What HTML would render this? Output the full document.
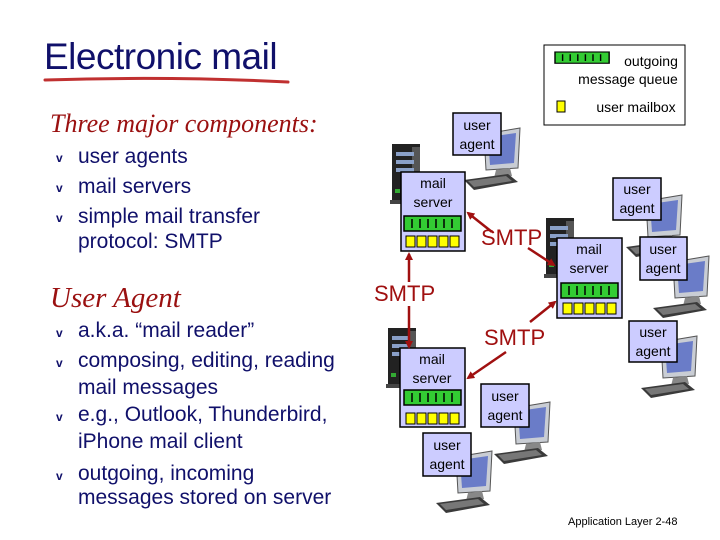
<!DOCTYPE html>
<html><head><meta charset="utf-8">
<style>
body{margin:0;width:720px;height:540px;background:#fff;overflow:hidden;position:relative;font-family:"Liberation Sans",sans-serif}
.t{position:absolute;white-space:nowrap}
.title{left:44px;top:36px;font-size:37px;color:#10106a;letter-spacing:-0.5px}
.h{color:#9a1010;font-style:italic;font-family:"Liberation Serif",serif}
.b{color:#10106a;font-size:21px}
.bul{position:absolute;color:#10106a;font-size:12px;font-weight:bold}
svg{position:absolute;left:0;top:0}
</style></head><body>
<svg width="720" height="540" viewBox="0 0 720 540">
<defs>
<symbol id="pc" overflow="visible">
<polygon points="6,4 42,-2 40,38 8,40" fill="#c9cdd4" stroke="#555" stroke-width="1"/>
<polygon points="10,7 38,3 36,33 12,35" fill="#6a7cc8"/>
<polygon points="18,40 32,38 34,46 16,48" fill="#888"/>
<polygon points="-14,50 30,44 40,52 -4,60" fill="#3a3a3a"/>
<polygon points="-10,51 28,46 34,51 -4,57" fill="#777"/>
</symbol>
<symbol id="srv" overflow="visible">
<rect x="0" y="0" width="28" height="58" fill="#222"/>
<rect x="20" y="3" width="8" height="50" fill="#555"/>
<rect x="4" y="8" width="18" height="4" fill="#8aa0c8"/>
<rect x="4" y="16" width="18" height="4" fill="#8aa0c8"/>
<rect x="4" y="24" width="18" height="4" fill="#8aa0c8"/>
<rect x="3" y="45" width="5" height="4" fill="#3a3"/>
<rect x="-2" y="56" width="32" height="4" fill="#444"/>
</symbol>
<symbol id="q" overflow="visible">
<rect x="0" y="0" width="57" height="15" fill="#33cc33" stroke="#000" stroke-width="1.5"/>
<g stroke="#000" stroke-width="1.5"><line x1="8" y1="3" x2="8" y2="12"/><line x1="16" y1="3" x2="16" y2="12"/><line x1="24" y1="3" x2="24" y2="12"/><line x1="32" y1="3" x2="32" y2="12"/><line x1="40" y1="3" x2="40" y2="12"/><line x1="48" y1="3" x2="48" y2="12"/></g>
</symbol>
<symbol id="mb" overflow="visible">
<g fill="#ffff00" stroke="#000" stroke-width="1"><rect x="0" y="0" width="9" height="11"/><rect x="11" y="0" width="9" height="11"/><rect x="22" y="0" width="9" height="11"/><rect x="33" y="0" width="9" height="11"/><rect x="44" y="0" width="9" height="11"/></g>
</symbol>
<marker id="ah" markerWidth="8" markerHeight="8" refX="6" refY="4" orient="auto" markerUnits="userSpaceOnUse"><path d="M0,0 L8,4 L0,8 Z" fill="#a01010"/></marker>
</defs>
<path d="M45,80 Q170,76 288,82" stroke="#c03030" stroke-width="3" fill="none" stroke-linecap="round"/>
<rect x="544" y="45" width="141" height="80" fill="#fff" stroke="#000" stroke-width="1"/>
<use href="#q" x="555" y="52" transform="translate(555,52) scale(0.95,0.75) translate(-555,-52)"/>
<rect x="557" y="101" width="8" height="11" fill="#ffff00" stroke="#000"/>
<use href="#pc" x="478" y="130"/>
<use href="#pc" x="640" y="197"/>
<use href="#pc" x="667" y="258"/>
<use href="#pc" x="655" y="338"/>
<use href="#pc" x="508" y="404"/>
<use href="#pc" x="450" y="453"/>
<use href="#srv" x="392" y="144"/>
<use href="#srv" x="546" y="218"/>
<use href="#srv" x="388" y="328"/>
<rect x="401" y="172" width="64" height="79" fill="#ccccff" stroke="#000" stroke-width="1.5"/>
<use href="#q" x="404" y="216"/><use href="#mb" x="406" y="236"/>
<rect x="557" y="238" width="65" height="80" fill="#ccccff" stroke="#000" stroke-width="1.5"/>
<use href="#q" x="561" y="283"/><use href="#mb" x="563" y="303"/>
<rect x="400" y="348" width="65" height="79" fill="#ccccff" stroke="#000" stroke-width="1.5"/>
<use href="#q" x="404" y="390"/><use href="#mb" x="406" y="413"/>
<g fill="#ccccff" stroke="#000" stroke-width="1.5">
<rect x="453" y="113" width="48" height="42"/>
<rect x="613" y="178" width="48" height="42"/>
<rect x="640" y="237" width="47" height="43"/>
<rect x="629" y="321" width="48" height="41"/>
<rect x="481" y="384" width="48" height="43"/>
<rect x="423" y="433" width="48" height="43"/>
</g>
<g stroke="#a01010" stroke-width="2.5" fill="none">
<line x1="492" y1="232" x2="468" y2="213" marker-end="url(#ah)"/>
<line x1="528" y1="248" x2="554" y2="265" marker-end="url(#ah)"/>
<line x1="409" y1="282" x2="409" y2="254" marker-end="url(#ah)"/>
<line x1="409" y1="306" x2="409" y2="347" marker-end="url(#ah)"/>
<line x1="530" y1="322" x2="555" y2="302" marker-end="url(#ah)"/>
<line x1="506" y1="352" x2="468" y2="378" marker-end="url(#ah)"/>
</g>
<g font-family="Liberation Sans, sans-serif" fill="#a01010" font-size="22">
<text x="481" y="245">SMTP</text>
<text x="374" y="301">SMTP</text>
<text x="484" y="345">SMTP</text>
</g>
<g font-family="Liberation Sans, sans-serif" font-size="14" fill="#000" text-anchor="middle">
<text x="477" y="130">user</text><text x="477" y="149">agent</text>
<text x="433" y="188">mail</text><text x="433" y="207">server</text>
<text x="637" y="194">user</text><text x="637" y="213">agent</text>
<text x="589" y="254">mail</text><text x="589" y="273">server</text>
<text x="663" y="254">user</text><text x="663" y="273">agent</text>
<text x="653" y="337">user</text><text x="653" y="356">agent</text>
<text x="432" y="364">mail</text><text x="432" y="383">server</text>
<text x="505" y="401">user</text><text x="505" y="420">agent</text>
<text x="447" y="450">user</text><text x="447" y="469">agent</text>
<text x="651" y="66">outgoing</text>
<text x="628" y="84">message queue</text>
<text x="636" y="112">user mailbox</text>
</g>
<text x="568" y="525" font-family="Liberation Sans, sans-serif" font-size="11" fill="#000">Application Layer 2-48</text>
</svg>
<div class="t title">Electronic mail</div>
<div class="t h" style="left:50px;top:109px;font-size:26px">Three major components:</div>
<div class="bul" style="left:56px;top:151px">v</div><div class="t b" style="left:78px;top:145px">user agents</div>
<div class="bul" style="left:56px;top:181px">v</div><div class="t b" style="left:78px;top:175px">mail servers</div>
<div class="bul" style="left:56px;top:211px">v</div><div class="t b" style="left:78px;top:205px">simple mail transfer</div>
<div class="t b" style="left:78px;top:230px">protocol: SMTP</div>
<div class="t h" style="left:50px;top:282px;font-size:29px">User Agent</div>
<div class="bul" style="left:56px;top:326px">v</div><div class="t b" style="left:78px;top:319px">a.k.a. “mail reader”</div>
<div class="bul" style="left:56px;top:356px">v</div><div class="t b" style="left:78px;top:349px">composing, editing, reading</div>
<div class="t b" style="left:78px;top:376px">mail messages</div>
<div class="bul" style="left:56px;top:410px">v</div><div class="t b" style="left:78px;top:403px">e.g., Outlook, Thunderbird,</div>
<div class="t b" style="left:78px;top:430px">iPhone mail client</div>
<div class="bul" style="left:56px;top:469px">v</div><div class="t b" style="left:78px;top:462px">outgoing, incoming</div>
<div class="t b" style="left:78px;top:486px">messages stored on server</div>
</body></html>
